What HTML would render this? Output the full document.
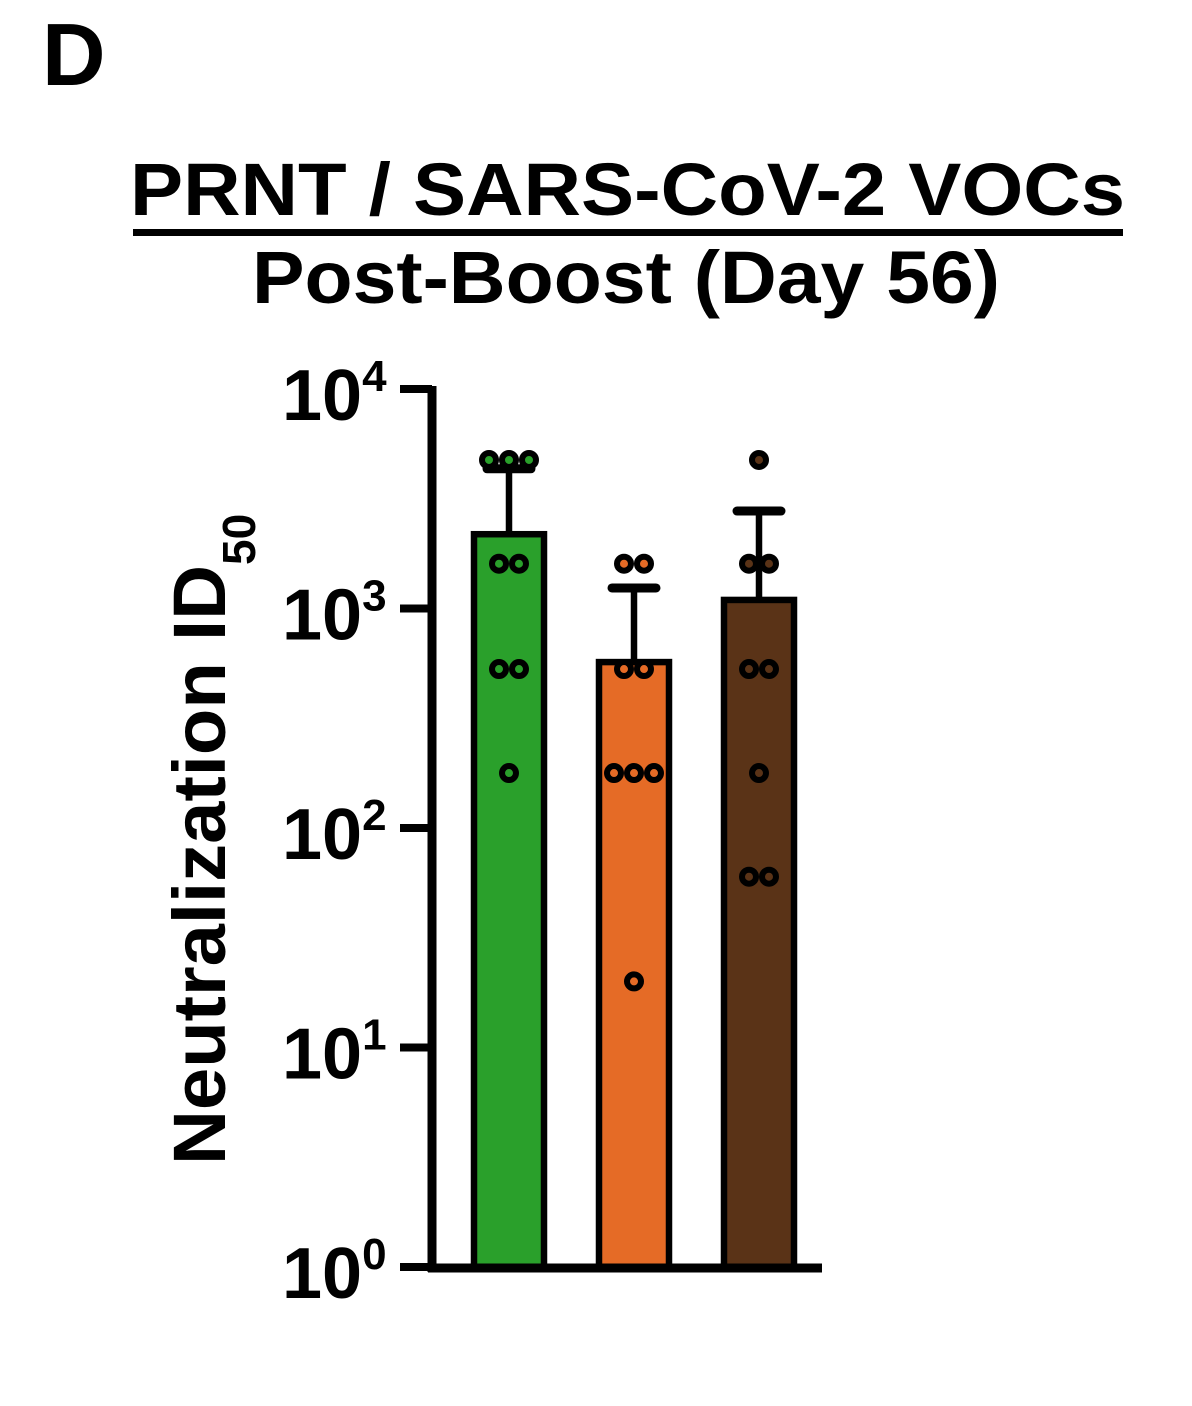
<!DOCTYPE html>
<html><head><meta charset="utf-8"><style>
body{margin:0;background:#fff;}
svg{display:block;font-family:"Liberation Sans",Arial,sans-serif;font-weight:bold;}
</style></head><body>
<svg id="chart" width="1192" height="1406">
<text x="42" y="85" font-size="88">D</text>
<text x="130" y="215" font-size="74" textLength="995" lengthAdjust="spacingAndGlyphs">PRNT / SARS-CoV-2 VOCs</text>
<rect x="133" y="229" width="990" height="7" fill="#000"/>
<text x="252" y="303" font-size="74" textLength="748" lengthAdjust="spacingAndGlyphs">Post-Boost (Day 56)</text>
<text transform="translate(225,1165) rotate(-90)" font-size="74"><tspan textLength="600" lengthAdjust="spacingAndGlyphs">Neutralization ID</tspan><tspan font-size="46" dy="30">50</tspan></text>
<g id="plot"></g>
</svg>
<script>
const categories=["Alpha","Beta","Gamma"];
const colors=["#2aa02b","#e56b26","#5a3317"];
const means=[2180,570,1094];
const errTops=[4330,1240,2780];
const points=[
 [4750,4750,4750,1600,1600,530,530,178],
 [1600,1600,530,530,178,178,178,20],
 [4750,1600,1600,530,530,178,60,60]
];
const tickExps=[0,1,2,3,4];
const y=v=>1267-Math.log10(v)*219.5;
const xc=i=>509+i*125;
const NS="http://www.w3.org/2000/svg";
const g=document.getElementById('plot');
function mk(t,a){const e=document.createElementNS(NS,t);for(const k in a)e.setAttribute(k,a[k]);g.appendChild(e);return e;}
categories.forEach((c,i)=>{
 const bar=mk('rect',{x:xc(i)-35,y:y(means[i]),width:70,height:1267-y(means[i]),fill:colors[i],stroke:'#000','stroke-width':6.5});
 
 
 const el=mk('line',{x1:xc(i),x2:xc(i),y1:y(means[i]),y2:y(errTops[i]),stroke:'#000','stroke-width':6.5});
 
 
 const cap=mk('line',{x1:xc(i)-22,x2:xc(i)+22,y1:y(errTops[i]),y2:y(errTops[i]),stroke:'#000','stroke-width':9,'stroke-linecap':'round'});
 
 
 const groups={};
 points[i].forEach(v=>{groups[v]=(groups[v]||0)+1;});
 Object.keys(groups).forEach(v=>{
  const n=groups[v];
  for(let k=0;k<n;k++){
   const px=xc(i)+(k-(n-1)/2)*20;
   const p=mk('circle',{cx:px,cy:y(+v),r:7,fill:colors[i],stroke:'#000','stroke-width':6});
   
   
  }
 });
});
const ax=mk('line',{x1:432,x2:432,y1:386,y2:1272,stroke:'#000','stroke-width':9});


const xa=mk('line',{x1:428,x2:822,y1:1268,y2:1268,stroke:'#000','stroke-width':9});


tickExps.forEach(e=>{
 const ty=y(Math.pow(10,e));
 const t=mk('line',{x1:400,x2:432,y1:ty,y2:ty,stroke:'#000','stroke-width':8});
 
 
 const tx=mk('text',{x:282,y:ty+31,'font-size':72});
 tx.textContent='10';
 const s=document.createElementNS(NS,'tspan');
 s.setAttribute('font-size','44');s.setAttribute('dy','-29');s.textContent=e;
 tx.appendChild(s);
 
 
});
</script>
</body></html>
